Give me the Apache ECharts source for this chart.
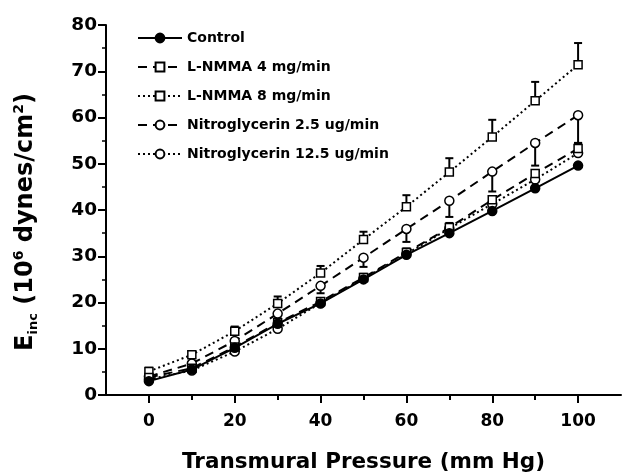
<!DOCTYPE html>
<html><head><meta charset="utf-8">
<script src="https://cdn.jsdelivr.net/npm/echarts@6/dist/echarts.min.js"></script>
<style>html,body{margin:0;padding:0;background:#fff}#c{width:627px;height:472px}</style>
</head><body><div id="c"></div>
<script>
const pressure = [0, 10, 20, 30, 40, 50, 60, 70, 80, 90, 100];
const seriesNames = ['Control', 'L-NMMA 4 mg/min', 'L-NMMA 8 mg/min', 'Nitroglycerin 2.5 ug/min', 'Nitroglycerin 12.5 ug/min'];
const control   = [3.0, 5.5, 10.2, 15.4, 19.8, 25.0, 30.3, 35.0, 39.8, 44.7, 49.6];
const lnmma4    = [3.8, 5.8, 10.4, 15.6, 20.2, 25.4, 30.8, 36.2, 42.2, 47.9, 53.3];
const lnmma8    = [5.1, 8.7, 13.8, 19.8, 26.4, 33.6, 40.7, 48.2, 55.8, 63.6, 71.4];
const nitro25   = [4.0, 6.8, 11.7, 17.6, 23.6, 29.7, 35.9, 42.0, 48.3, 54.5, 60.5];
const nitro125  = [3.4, 5.3, 9.4, 14.3, 19.9, 25.2, 30.5, 36.0, 41.3, 46.6, 52.3];
// error bar lengths (SEM), drawn in the direction shown in the figure
const lnmma4Err   = [0.5, 0.5, 0.6, 0.7, 0.7, 0.8, 0.9, 1.0, 0.7, 0.7, 1.2];   // up
const lnmma8Err   = [0.8, 0.8, 1.0, 1.5, 1.5, 1.7, 2.5, 3.0, 3.7, 4.1, 4.7];   // up
const nitro25Err  = [0.4, 0.5, 0.8, 1.0, 1.6, 2.0, 2.8, 3.5, 4.3, 4.9, 6.0];   // down
const nitro125Err = [0.3, 0.3, 0.4, 0.5, 0.5, 0.6, 0.6, 0.7, 0.7, 0.8, 0.8];   // up
const xLabelValues = [0, 20, 40, 60, 80, 100];
const xMinorValues = [10, 30, 50, 70, 90];

const FONT = 'DejaVu Sans';

function pts(vals) { return pressure.map((p, i) => [p, vals[i]]); }
function errData(vals, errs, dir) { return pressure.map((p, i) => [p, vals[i], vals[i] + dir * errs[i]]); }
function errRender(params, api) {
  const x = api.value(0), y0 = api.value(1), y1 = api.value(2);
  const p0 = api.coord([x, y0]), p1 = api.coord([x, y1]);
  const hw = 4;
  return { type: 'group', children: [
    { type: 'line', shape: { x1: p0[0], y1: p0[1], x2: p1[0], y2: p1[1] }, style: { stroke: '#000', lineWidth: 2 } },
    { type: 'line', shape: { x1: p1[0] - hw, y1: p1[1], x2: p1[0] + hw, y2: p1[1] }, style: { stroke: '#000', lineWidth: 2 } }
  ]};
}
function errSeries(vals, errs, dir) {
  return { type: 'custom', renderItem: errRender, data: errData(vals, errs, dir), z: 1, silent: true, xAxisIndex: 0 };
}
function lineSeries(name, vals, lineType, symbol, filled) {
  return {
    name, type: 'line', data: pts(vals), z: 3, xAxisIndex: 0,
    symbol, symbolSize: symbol === 'rect' ? 8 : 9,
    lineStyle: { color: '#000', width: 2, type: lineType },
    itemStyle: { color: filled ? '#000' : '#fff', borderColor: '#000', borderWidth: 1.5 },
    emphasis: { disabled: true }
  };
}

const chart = echarts.init(document.getElementById('c'));
chart.setOption({
  animation: false,
  backgroundColor: '#fff',
  grid: { left: 106, right: 6, top: 25, bottom: 77, containLabel: false, outerBoundsMode: 'none' },
  legend: {
    orient: 'vertical', left: 132, top: 26, itemWidth: 44, itemHeight: 11, itemGap: 15,
    data: seriesNames,
    textStyle: { fontFamily: FONT, fontWeight: 'bold', fontSize: 14, color: '#000' }
  },
  xAxis: [{
    type: 'value', min: -10, max: 110, interval: 10,
    axisLine: { onZero: false, lineStyle: { color: '#000', width: 2 } },
    axisTick: { customValues: xLabelValues, length: 8, lineStyle: { color: '#000', width: 2 } },
    axisLabel: { customValues: xLabelValues, margin: 18, fontFamily: FONT, fontWeight: 'bold', fontSize: 17, color: '#000' },
    splitLine: { show: false },
    name: 'Transmural Pressure (mm Hg)', nameLocation: 'middle', nameGap: 56,
    nameTextStyle: { fontFamily: FONT, fontWeight: 'bold', fontSize: 21.5, color: '#000' }
  }, {
    type: 'value', min: -10, max: 110, interval: 10, position: 'bottom', offset: 0,
    axisLine: { show: false },
    axisTick: { customValues: xMinorValues, length: 5, lineStyle: { color: '#000', width: 2 } },
    axisLabel: { show: false }, splitLine: { show: false }
  }],
  yAxis: {
    type: 'value', min: 0, max: 80, interval: 10,
    axisLine: { show: true, onZero: false, lineStyle: { color: '#000', width: 2 } },
    axisTick: { show: true, length: 8, lineStyle: { color: '#000', width: 2 } },
    minorTick: { show: true, splitNumber: 2, length: 4, lineStyle: { color: '#000', width: 1.5 } },
    axisLabel: { margin: 9, fontFamily: FONT, fontWeight: 'bold', fontSize: 18.5, color: '#000' },
    splitLine: { show: false }
  },
  graphic: [{
    type: 'text', x: 26, y: 222, rotation: Math.PI / 2,
    style: {
      text: '{m|E}{s|inc}{m| (10}{p|6}{m| dynes/cm}{p|2}{m|)}',
      align: 'center', verticalAlign: 'middle', fill: '#000',
      rich: {
        m: { fontFamily: FONT, fontWeight: 'bold', fontSize: 24, lineHeight: 32, verticalAlign: 'middle', fill: '#000' },
        s: { fontFamily: FONT, fontWeight: 'bold', fontSize: 13, lineHeight: 32, verticalAlign: 'bottom', fill: '#000', padding: [0, 0, 2, 0] },
        p: { fontFamily: FONT, fontWeight: 'bold', fontSize: 14, lineHeight: 32, verticalAlign: 'top', fill: '#000', padding: [2, 0, 0, 0] }
      }
    }
  }],
  series: [
    errSeries(lnmma4, lnmma4Err, 1),
    errSeries(lnmma8, lnmma8Err, 1),
    errSeries(nitro25, nitro25Err, -1),
    errSeries(nitro125, nitro125Err, 1),
    lineSeries(seriesNames[4], nitro125, [2, 3], 'circle', false),
    lineSeries(seriesNames[3], nitro25, [9, 6], 'circle', false),
    lineSeries(seriesNames[2], lnmma8, [2, 3], 'rect', false),
    lineSeries(seriesNames[1], lnmma4, [9, 6], 'rect', false),
    lineSeries(seriesNames[0], control, 'solid', 'circle', true)
  ]
});
</script></body></html>
